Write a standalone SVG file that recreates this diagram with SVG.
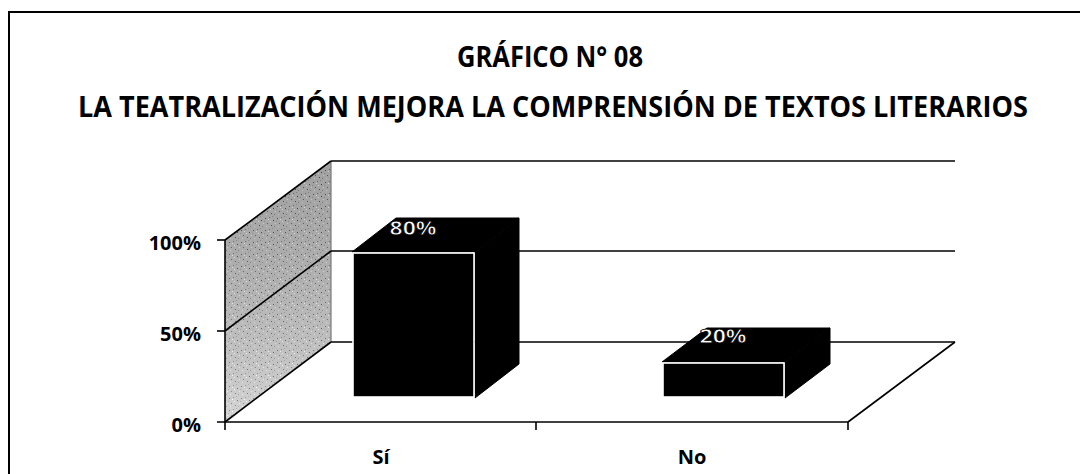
<svg xmlns="http://www.w3.org/2000/svg" width="1080" height="474" viewBox="0 0 1080 474">
  <style>
    .t { font-family: "Open Sans", "Liberation Sans", sans-serif; font-weight: bold; fill: #000; }
    .ax { font-family: "Open Sans", "Liberation Sans", sans-serif; font-weight: bold; font-size: 20px; fill: #000; }
    .line { stroke: #000; stroke-width: 1.6; fill: none; }
    .grid { stroke: #000; stroke-width: 1.4; fill: none; }
    .bar { fill: #000; stroke: #000; stroke-width: 1; }
    .face { fill: #000; stroke: #fff; stroke-width: 1.6; }
    .val { font-family: "Open Sans", "Liberation Sans", sans-serif; font-weight: bold; font-size: 20px; fill: #fff; stroke: #000; stroke-width: 0.8; }
  </style>
  <defs>
    <pattern id="speckle" width="12" height="12" patternUnits="userSpaceOnUse">
      <rect width="12" height="12" fill="#c4c4c4"/>
      <rect x="1" y="2" width="1" height="1" fill="#555"/>
      <rect x="5" y="1" width="1" height="1" fill="#777"/>
      <rect x="9" y="4" width="1" height="1" fill="#444"/>
      <rect x="3" y="7" width="1" height="1" fill="#666"/>
      <rect x="7" y="9" width="1" height="1" fill="#555"/>
      <rect x="10" y="10" width="1" height="1" fill="#888"/>
      <rect x="2" y="10" width="1" height="1" fill="#eee"/>
      <rect x="6" y="5" width="1" height="1" fill="#fff"/>
      <rect x="11" y="7" width="1" height="1" fill="#eee"/>
      <rect x="4" y="3" width="1" height="1" fill="#fff"/>
      <rect x="8" y="0" width="1" height="1" fill="#999"/>
      <rect x="0" y="5" width="1" height="1" fill="#999"/>
    </pattern>
    <linearGradient id="shade" x1="0" y1="0" x2="0" y2="1">
      <stop offset="0" stop-color="#000" stop-opacity="0.18"/>
      <stop offset="1" stop-color="#fff" stop-opacity="0.3"/>
    </linearGradient>
  </defs>

  <rect width="1080" height="474" fill="#fff"/>
  <!-- outer frame (right and bottom edges beyond view) -->
  <rect x="9" y="12" width="1100" height="500" fill="none" stroke="#000" stroke-width="2"/>

  <!-- title -->
  <g id="title">
    <text class="t" x="550" y="67" font-size="28" text-anchor="middle" textLength="186" lengthAdjust="spacingAndGlyphs">GRÁFICO N° 08</text>
    <text class="t" x="553" y="117" font-size="28" text-anchor="middle" textLength="950" lengthAdjust="spacingAndGlyphs">LA TEATRALIZACIÓN MEJORA LA COMPRENSIÓN DE TEXTOS LITERARIOS</text>
  </g>

  <!-- side wall -->
  <g id="wall">
    <polygon points="225,240 331,161 331,342 225,422" fill="url(#speckle)"/>
    <polygon points="225,240 331,161 331,342 225,422" fill="url(#shade)"/>
    <line x1="331" y1="161" x2="331" y2="342" stroke="#777" stroke-width="1.2"/>
  </g>

  <g id="connectors">
    <!-- back gridlines -->
    <line class="grid" x1="331" y1="161" x2="955" y2="161"/>
    <line class="grid" x1="331" y1="251" x2="955" y2="251"/>
    <line class="grid" x1="331" y1="342" x2="955" y2="342"/>
    <!-- wall diagonals -->
    <line class="line" x1="225" y1="240" x2="331" y2="161" stroke-width="2.2"/>
    <line class="line" x1="225" y1="331" x2="331" y2="251" stroke-width="1.8"/>
    <line class="line" x1="225" y1="422" x2="331" y2="342" stroke-width="1.8"/>
    <!-- floor -->
    <line class="line" x1="848" y1="422" x2="955" y2="342"/>
    <line class="line" x1="217" y1="422" x2="848" y2="422" stroke-width="2"/>
    <!-- y axis -->
    <line class="line" x1="225" y1="240" x2="225" y2="430" stroke-width="2"/>
    <line class="line" x1="217" y1="240" x2="225" y2="240"/>
    <line class="line" x1="217" y1="331" x2="225" y2="331"/>
    <!-- x ticks -->
    <line class="line" x1="536" y1="422" x2="536" y2="430"/>
    <line class="line" x1="848" y1="422" x2="848" y2="430"/>
  </g>

  <g id="axis-labels">
    <text class="ax" x="201" y="250" text-anchor="end">100%</text>
    <text class="ax" x="201" y="341" text-anchor="end">50%</text>
    <text class="ax" x="201" y="432" text-anchor="end">0%</text>
    <text class="ax" x="381" y="464" text-anchor="middle">Sí</text>
    <text class="ax" x="692" y="464" text-anchor="middle">No</text>
  </g>

  <g id="bar-si">
    <polygon class="bar" points="352,252 475,252 519,218 396,218"/>
    <polygon class="bar" points="475,252 519,218 519,364 475,398"/>
    <rect class="face" x="353" y="253" width="121" height="144"/>
    <text class="val" x="413" y="235" text-anchor="middle" textLength="47" lengthAdjust="spacingAndGlyphs">80%</text>
  </g>

  <g id="bar-no">
    <polygon class="bar" points="662,362 785,362 830,328 707,328"/>
    <polygon class="bar" points="785,362 830,328 830,364 785,398"/>
    <rect class="face" x="663" y="363" width="121" height="34"/>
    <text class="val" x="723" y="343" text-anchor="middle" textLength="47" lengthAdjust="spacingAndGlyphs">20%</text>
  </g>
</svg>
